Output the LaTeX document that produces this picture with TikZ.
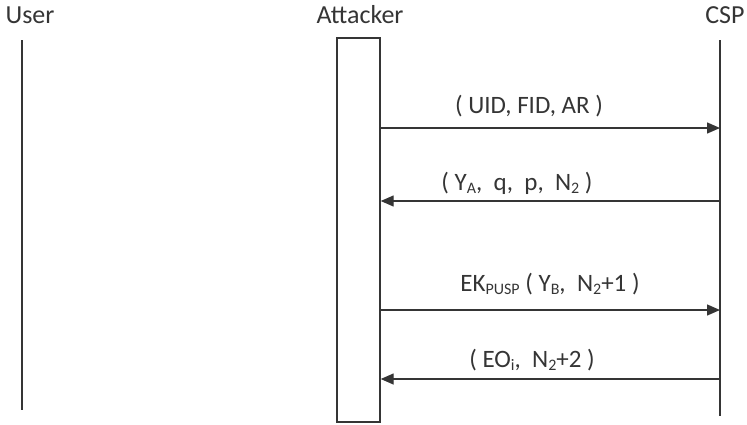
\documentclass[tikz,border=0pt]{standalone}
\usepackage{fontspec}
\setmainfont{Carlito}
\usetikzlibrary{arrows.meta}
\definecolor{ink}{HTML}{353535}
\newcommand{\sub}[1]{\raisebox{-0.12em}{\fontsize{16}{16}\selectfont #1}}
\begin{document}
\begin{tikzpicture}[x=1pt,y=-1pt,
  every node/.style={text=ink,inner sep=0pt},
  header/.style={font=\fontsize{26}{30}\selectfont,anchor=base},
  msglabel/.style={font=\fontsize{25}{29}\selectfont,anchor=base},
  lifeline/.style={draw=ink,line width=1.4pt},
  msg/.style={draw=ink,line width=1.4pt,-{Triangle[length=13pt,width=11pt]}}]
\useasboundingbox (0,0) rectangle (747,424);
% participants
\node[header] (huser) at (30,23) {User};
\node[header] (hatt) at (360,23) {Attacker};
\node[header] (hcsp) at (725,23) {CSP};
% lifelines
\coordinate (u1) at (22,40);
\coordinate (u2) at (22,410);
\coordinate (c1) at (720,40);
\coordinate (c2) at (720,416);
\draw[lifeline] (u1) -- (u2);
\draw[lifeline] (c1) -- (c2);
\node[draw=ink,line width=1.4pt,minimum width=43pt,minimum height=384pt] (att) at (358.5,230) {};
% message end points
\coordinate (a1) at (att.east |- 0,128);  \coordinate (s1) at (c1 |- 0,128);
\coordinate (a2) at (att.east |- 0,201);  \coordinate (s2) at (c1 |- 0,201);
\coordinate (a3) at (att.east |- 0,310);  \coordinate (s3) at (c1 |- 0,310);
\coordinate (a4) at (att.east |- 0,379);  \coordinate (s4) at (c1 |- 0,379);
% messages
\draw[msg] (a1) -- (s1);
\draw[msg] (s2) -- (a2);
\draw[msg] (a3) -- (s3);
\draw[msg] (s4) -- (a4);
\node[msglabel] (l1) at (529,113) {( UID, FID, AR )};
\node[msglabel] (l2) at (517,190) {( Y\sub{A}, \ q, \ p, \ N\sub{2} )};
\node[msglabel] (l3) at (550,291) {EK\sub{PUSP} ( Y\sub{B}, \ N\sub{2}+1 )};
\node[msglabel] (l4) at (532,367) {( EO\sub{i}, \ N\sub{2}+2 )};
\end{tikzpicture}
\end{document}
